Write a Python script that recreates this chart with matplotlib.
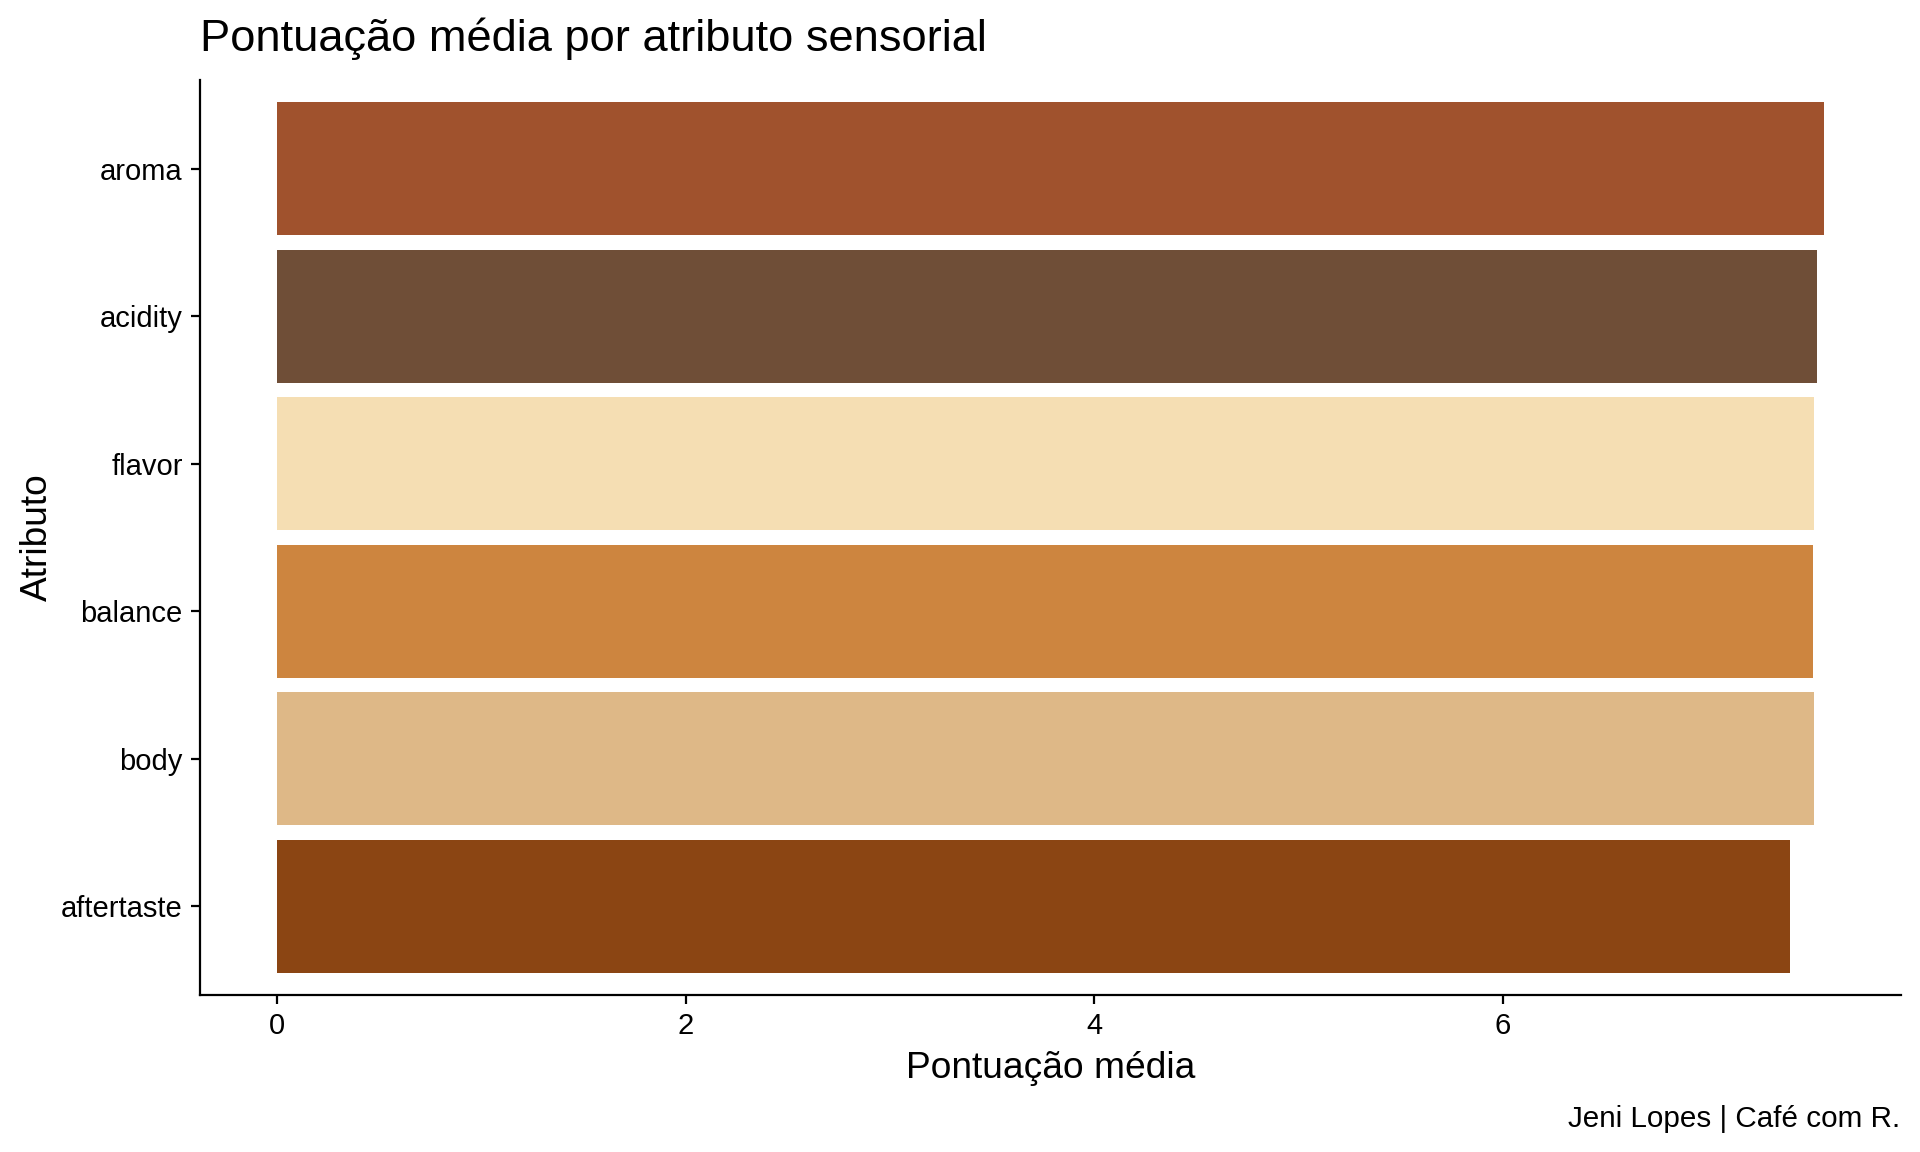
import matplotlib
matplotlib.use("Agg")
import matplotlib.pyplot as plt

# Mean sensory scores per attribute (top to bottom as in the chart)
atributos = ["aroma", "acidity", "flavor", "balance", "body", "aftertaste"]
medias = [7.572, 7.538, 7.523, 7.522, 7.523, 7.406]
cores = ["#A0522D", "#6F4E37", "#F5DEB3", "#CD853F", "#DEB887", "#8B4513"]

plt.rcParams["font.family"] = ["Liberation Sans", "DejaVu Sans"]

fig = plt.figure(figsize=(19.2, 11.52), dpi=100)
ax = fig.add_axes([200 / 1920, 1 - 995 / 1152, 1701 / 1920, 915 / 1152])

pos = list(range(len(atributos)))
ax.barh(pos, medias, height=0.9, color=cores)

ax.set_ylim(len(atributos) - 0.4, -0.6)
xmax = max(medias)
ax.set_xlim(-0.05 * xmax, xmax * 1.05)
ax.set_yticks(pos)
ax.set_yticklabels(atributos)
ax.set_xticks([0, 2, 4, 6])

for s in ["top", "right"]:
    ax.spines[s].set_visible(False)
for s in ["left", "bottom"]:
    ax.spines[s].set_linewidth(1.6)
    ax.spines[s].set_color("black")

ax.tick_params(axis="both", length=6.5, width=1.6, labelsize=21, pad=6, colors="black")

ax.set_xlabel("Pontuação média", fontsize=26.7, labelpad=8)
ax.set_ylabel("Atributo", fontsize=26.7, labelpad=4)

fig.text(200 / 1920, 1 - 51 / 1152, "Pontuação média por atributo sensorial",
         fontsize=32.6, ha="left", va="baseline")
fig.text(1900 / 1920, 1 - 1127 / 1152, "Jeni Lopes | Café com R.",
         fontsize=21.3, ha="right", va="baseline")

fig.savefig("out.png", dpi=100, facecolor="white")
